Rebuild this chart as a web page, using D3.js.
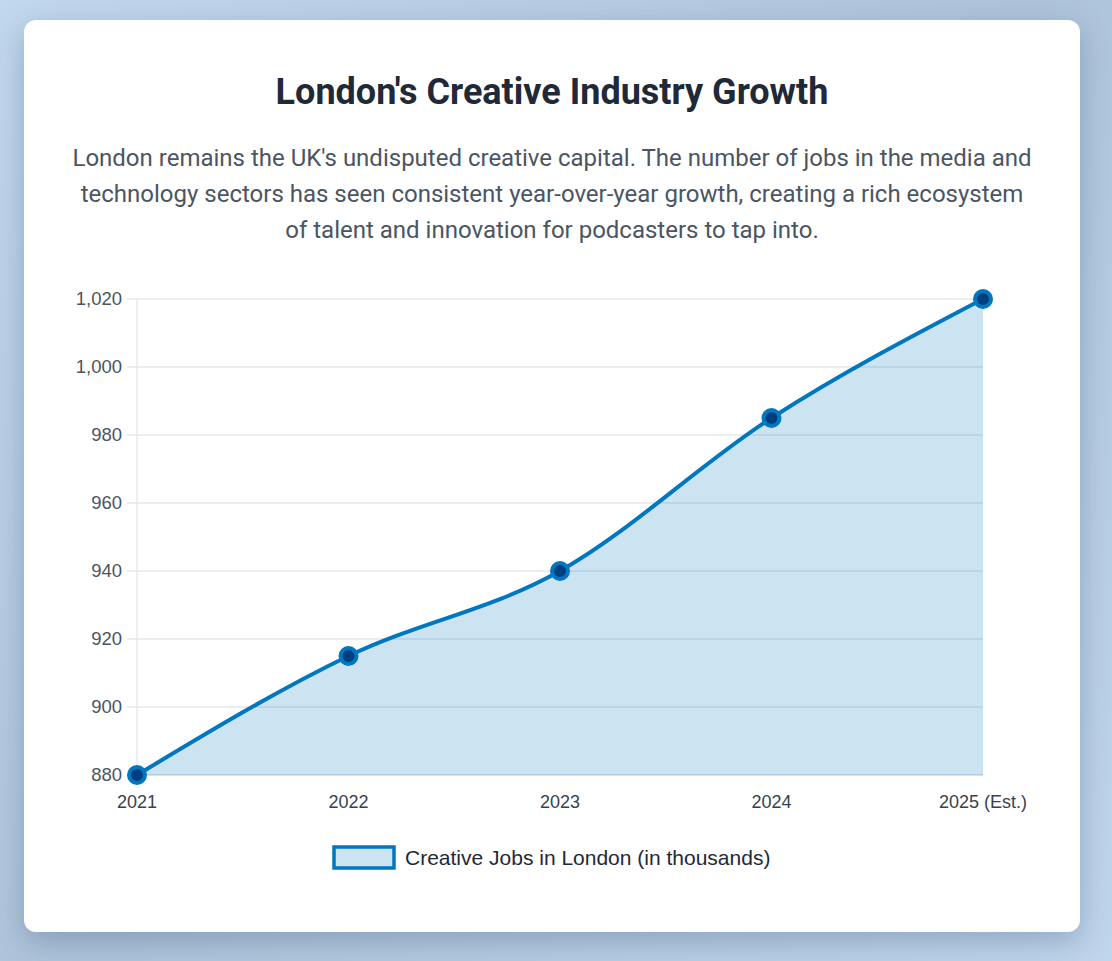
<!DOCTYPE html>
<html>
<head>
<meta charset="utf-8">
<script src="https://cdn.jsdelivr.net/npm/d3@7/dist/d3.min.js"></script>
<style>
  html, body { margin: 0; padding: 0; }
  body {
    width: 1112px; height: 961px; overflow: hidden;
    background: linear-gradient(135deg, #c2d8ee 0%, #aec4da 50%, #c0d6ec 100%);
    font-family: Roboto, "Noto Sans", sans-serif;
  }
  .card {
    position: absolute; left: 24px; top: 20px; width: 1056px; height: 912px;
    background: #fff; border-radius: 12px;
    box-shadow: 0 10px 30px rgba(60, 90, 120, 0.35);
  }
  h1 {
    margin: 0; position: absolute; top: 50px; width: 100%; text-align: center;
    font-size: 36px; line-height: 44px; font-weight: 700; color: #1f2937;
  }
  p.desc {
    margin: 0; position: absolute; top: 120px; left: 45px; right: 45px; text-align: center;
    font-size: 24px; line-height: 36px; color: #4b5563;
  }
  #chart { position: absolute; left: 0; top: 0; }
</style>
</head>
<body>
<div class="card">
  <h1>London's Creative Industry Growth</h1>
  <p class="desc">London remains the UK's undisputed creative capital. The number of jobs in the media and technology sectors has seen consistent year-over-year growth, creating a rich ecosystem of talent and innovation for podcasters to tap into.</p>
</div>
<svg id="chart" width="1112" height="961"></svg>
<script>
var years = ["2021", "2022", "2023", "2024", "2025 (Est.)"];
var jobs = [880, 915, 940, 985, 1020];
var yTicks = [880, 900, 920, 940, 960, 980, 1000, 1020];
var seriesLabel = "Creative Jobs in London (in thousands)";

var margin = {top: 299, left: 137, right: 129, bottom: 186},
  width = 1112 - margin.left - margin.right,
  height = 961 - margin.top - margin.bottom;

var svg = d3.select("#chart")
  .append("g")
  .attr("transform", "translate(" + margin.left + "," + margin.top + ")");

var data = years.map(function (y, i) { return {year: y, value: jobs[i]}; });

var x = d3.scalePoint().domain(years).range([0, width]);
var y = d3.scaleLinear().domain([880, 1020]).range([height, 0]);

var tickFont = "'Liberation Sans', Arial, sans-serif";

// horizontal grid
svg.append("g")
  .selectAll("line")
  .data(yTicks)
  .enter()
  .append("line")
  .attr("x1", -10)
  .attr("x2", width)
  .attr("y1", function (d) { return y(d); })
  .attr("y2", function (d) { return y(d); })
  .attr("stroke", function (d) { return d === 880 ? "#d4d7dc" : "#e5e7eb"; })
  .attr("stroke-width", 1.3);

// left axis border
svg.append("line")
  .attr("x1", 0).attr("x2", 0)
  .attr("y1", 0).attr("y2", height)
  .attr("stroke", "#e5e7eb")
  .attr("stroke-width", 1.3);

// y labels
var fmt = d3.format(",");
svg.append("g")
  .selectAll("text")
  .data(yTicks)
  .enter()
  .append("text")
  .attr("x", -15)
  .attr("y", function (d) { return y(d); })
  .attr("dy", "0.35em")
  .attr("text-anchor", "end")
  .style("font-family", tickFont)
  .style("font-size", "18.5px")
  .attr("fill", "#4b5563")
  .text(function (d) { return fmt(d); });

// x labels
svg.append("g")
  .selectAll("text")
  .data(years)
  .enter()
  .append("text")
  .attr("x", function (d) { return x(d); })
  .attr("y", height + 27)
  .attr("dy", "0.35em")
  .attr("text-anchor", "middle")
  .style("font-family", tickFont)
  .style("font-size", "18px")
  .attr("fill", "#374151")
  .text(function (d) { return d; });

var curve = d3.curveMonotoneX;

// area
var area = d3.area()
  .x(function (d) { return x(d.year); })
  .y0(height)
  .y1(function (d) { return y(d.value); })
  .curve(curve);

svg.append("path")
  .datum(data)
  .attr("d", area)
  .attr("fill", "rgba(0, 119, 190, 0.2)");

// line
var line = d3.line()
  .x(function (d) { return x(d.year); })
  .y(function (d) { return y(d.value); })
  .curve(curve);

svg.append("path")
  .datum(data)
  .attr("d", line)
  .attr("fill", "none")
  .attr("stroke", "#0077be")
  .attr("stroke-width", 4);

// points
svg.selectAll(".pt")
  .data(data)
  .enter()
  .append("circle")
  .attr("class", "pt")
  .attr("cx", function (d) { return x(d.year); })
  .attr("cy", function (d) { return y(d.value); })
  .attr("r", 8)
  .attr("fill", "#003f7f")
  .attr("stroke", "#0077be")
  .attr("stroke-width", 4);

// legend
var legend = d3.select("#chart").append("g")
  .attr("transform", "translate(334,847)");
legend.append("rect")
  .attr("width", 60).attr("height", 21)
  .attr("fill", "rgba(0, 119, 190, 0.2)")
  .attr("stroke", "#0077be")
  .attr("stroke-width", 3.5);
legend.append("text")
  .attr("x", 71)
  .attr("y", 11)
  .attr("dy", "0.35em")
  .style("font-family", tickFont)
  .style("font-size", "21px")
  .attr("fill", "#1f2937")
  .text(seriesLabel);
</script>
</body>
</html>
